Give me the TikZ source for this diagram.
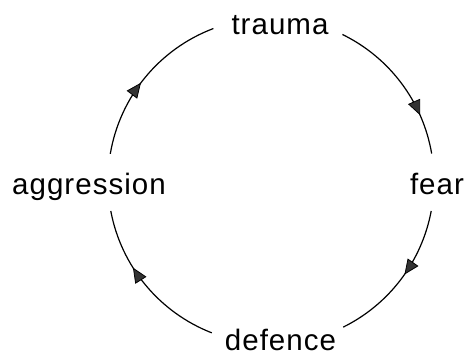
\documentclass[tikz,border=0pt]{standalone}
\usepackage{fontspec}
\setmainfont{Liberation Sans}[LetterSpace=3.5]
\usetikzlibrary{arrows.meta, decorations.markings}

\begin{document}
\begin{tikzpicture}[
    x=1pt, y=1pt,
    stage/.style={font=\fontsize{29.5}{32}\selectfont, anchor=base, inner sep=0pt},
    cyclearc/.style={line width=1.2pt, black}
]
\useasboundingbox (0,0) rectangle (467,356);

% ==================== STAGES ====================
\node[stage] (trauma)     at (280, 321) {trauma};
\node[stage] (fear)       at (437, 161) {fear};
\node[stage] (defence)    at (280.5, 5) {defence};
\node[stage] (aggression) at (89, 161)  {aggression};

% ==================== CYCLE ====================
\def\rad{163}
\coordinate (cc) at (271, 175);

\foreach \k/\from/\to/\pos in {
    1/64/9.7/0.74,
    2/-10.6/-63.7/0.46,
    3/-111.3/-169.4/0.63,
    4/170.4/110.7/0.46
} {
    \path (cc) ++(\from:\rad) coordinate (arc\k);
    \draw[cyclearc, postaction={decorate}, decoration={markings,
        mark=at position \pos with {\arrow{Triangle[length=15pt, width=13pt, fill=black!80, line width=0.8pt]}}}]
        (arc\k) arc[start angle=\from, end angle=\to, radius=\rad];
}

\end{tikzpicture}
\end{document}
